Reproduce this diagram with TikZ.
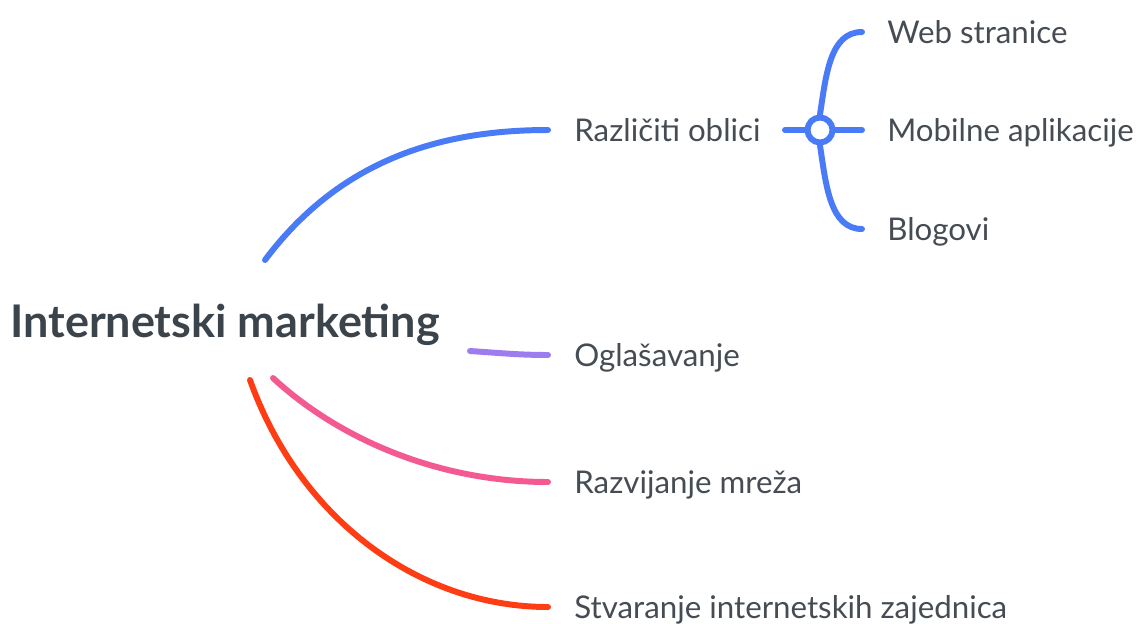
\documentclass[tikz,border=0pt]{standalone}
\usepackage{fontspec}
\setmainfont{Lato}
\usetikzlibrary{positioning}
\definecolor{brblue}{HTML}{4A7BF7}
\definecolor{brpurple}{HTML}{9F7BF0}
\definecolor{brpink}{HTML}{F35A91}
\definecolor{brred}{HTML}{FF3D14}
\definecolor{txtgray}{HTML}{464C53}
\definecolor{rootgray}{HTML}{3B434B}
\begin{document}
\begin{tikzpicture}[x=0.02cm,y=-0.02cm,
    branch/.style={line width=3.4pt,line cap=round},
    topic/.style={inner sep=0pt,anchor=west,text height=12.6pt,text depth=0pt,
        font=\fontsize{17.8}{21}\selectfont,text=txtgray},
    hubnode/.style={circle,draw=brblue,fill=white,line width=3.4pt,minimum size=0.5cm,inner sep=0pt}]
    \useasboundingbox (0,0) rectangle (1142,623);
    \node(im) at (10,337) [anchor=base west,inner sep=0pt,text=rootgray,
        font=\fontsize{25.6}{30}\selectfont\bfseries] {Internetski marketing};
    \coordinate(s1) at (265,260);
    \coordinate(s2) at (470,351);
    \coordinate(s3) at (273,378);
    \coordinate(s4) at (250,380);
    \coordinate(e1) at (548,130);
    \coordinate(e2) at (548,355);
    \coordinate(e3) at (548,482);
    \coordinate(e4) at (548,607);
    \node[topic,right=0.52cm of e1] (r1) {Različiti oblici};
    \node[topic,right=0.52cm of e2] (r2) {Oglašavanje};
    \node[topic,right=0.52cm of e3] (r3) {Razvijanje mreža};
    \node[topic,right=0.52cm of e4] (r4) {Stvaranje internetskih zajednica};
    \coordinate(h0) at (785,130);
    \coordinate(f1) at (862,32);
    \coordinate(f2) at (862,130);
    \coordinate(f3) at (862,229);
    \node[topic,right=0.5cm of f1] (w1) {Web stranice};
    \node[topic,right=0.5cm of f2] (w2) {Mobilne aplikacije};
    \node[topic,right=0.5cm of f3] (w3) {Blogovi};
    \draw[branch,brblue] (s1) .. controls (340,160) and (440,130) .. (e1);
    \draw[branch,brpurple] (s2) .. controls (500,353) and (520,355) .. (e2);
    \draw[branch,brpink] (s3) .. controls (340,440) and (440,482) .. (e3);
    \draw[branch,brred] (s4) .. controls (300,520) and (420,607) .. (e4);
    \node[hubnode] (hub) at (820,130) {};
    \draw[branch,brblue] (h0) -- (hub);
    \draw[branch,brblue] (hub) -- (f2);
    \draw[branch,brblue] (hub.north) .. controls (826,75) and (830,32) .. (f1);
    \draw[branch,brblue] (hub.south) .. controls (826,185) and (830,229) .. (f3);
\end{tikzpicture}
\end{document}
